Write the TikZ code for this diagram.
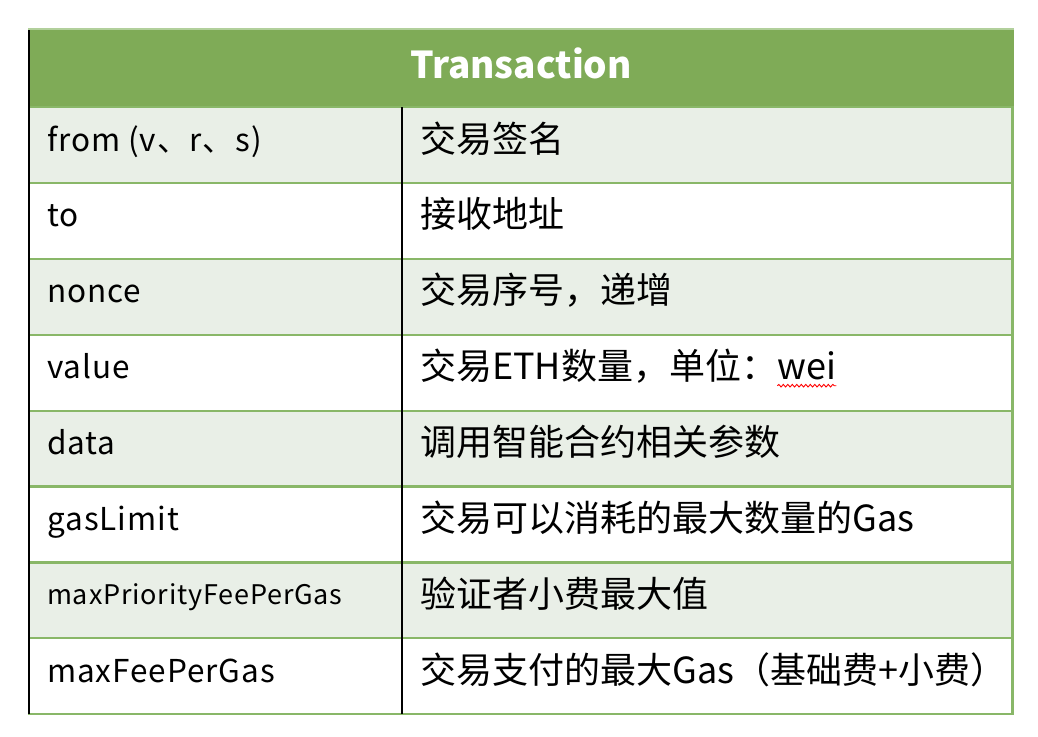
\documentclass[tikz,border=0pt]{standalone}
\usepackage{fontspec}
\setmainfont{Noto Sans CJK SC}
\newfontfamily\latinwide[LetterSpace=3]{Noto Sans CJK SC}
\usetikzlibrary{decorations.pathmorphing}
\definecolor{hdr}{RGB}{127,171,87}
\definecolor{rowfill}{RGB}{233,239,231}
\definecolor{rule}{RGB}{137,183,104}
\definecolor{toprule}{RGB}{178,208,156}
\begin{document}
\begin{tikzpicture}[x=1pt,y=-1pt,
  lefttext/.style={anchor=base west,inner sep=0pt,font=\latinwide\fontsize{31.5}{31.5}\selectfont},
  smalltext/.style={anchor=base west,inner sep=0pt,font=\latinwide\fontsize{27}{27}\selectfont},
  righttext/.style={anchor=base west,inner sep=0pt,font=\fontsize{36}{36}\selectfont},
  hdrtext/.style={anchor=base,inner sep=0pt,text=white,font=\fontsize{37}{37}\selectfont\bfseries},
  hline/.style={draw=rule,line width=2.2pt},
  vline/.style={draw=black,line width=2pt}]
\useasboundingbox (0,0) rectangle (1038,736);
% header
\fill[hdr] (28,29) rectangle (1014,107);
\draw[toprule,line width=1.5pt] (28,29) -- (1014,29);
% row fills
\foreach \i in {0,2,4,6} {
  \fill[rowfill] (28,{107+75.9*\i}) rectangle (1012,{107+75.9*(\i+1)});
}
% horizontal rules
\foreach \i in {0,...,8} {
  \draw[hline] (28,{107+75.9*\i}) -- (1013.5,{107+75.9*\i});
}
\draw[hline] (1012.5,107) -- (1012.5,714);
% vertical black lines
\draw[vline] (28.5,30) -- (28.5,714);
\draw[vline] (401.5,107) -- (401.5,714);
% header text
\node[hdrtext] (title) at (521,78) {Transaction};
% left column
\node[lefttext] (k1) at (47,151) {from (v、r、s)};
\node[lefttext] (k2) at (47,{151+75.9}) {to};
\node[lefttext] (k3) at (47,{151+75.9*2}) {nonce};
\node[lefttext] (k4) at (47,{151+75.9*3}) {value};
\node[lefttext] (k5) at (47,{151+75.9*4}) {data};
\node[lefttext] (k6) at (47,{151+75.9*5}) {gasLimit};
\node[smalltext] (k7) at (47,{149+75.9*6}) {maxPriorityFeePerGas};
\node[lefttext] (k8) at (47,{151+75.9*7}) {maxFeePerGas};
% right column
\node[righttext] (v1) at (420,152) {交易签名};
\node[righttext] (v2) at (420,{152+75.9}) {接收地址};
\node[righttext] (v3) at (420,{152+75.9*2}) {交易序号，递增};
\node[righttext] (v4) at (420,{152+75.9*3}) {交易ETH数量，单位：};
\node[righttext,anchor=base west] (wei) at (v4.base east) {wei};
\node[righttext] (v5) at (420,{152+75.9*4}) {调用智能合约相关参数};
\node[righttext] (v6) at (420,{152+75.9*5}) {交易可以消耗的最大数量的Gas};
\node[righttext] (v7) at (420,{152+75.9*6}) {验证者小费最大值};
\node[righttext] (v8) at (420,{152+75.9*7}) {交易支付的最大Gas（基础费+小费）};
% spell-check squiggle
\draw[red,line width=0.9pt,decorate,decoration={snake,amplitude=1.3pt,segment length=4.5pt}]
  ([yshift=-6pt]wei.base west) -- ([yshift=-6pt]wei.base east);
\end{tikzpicture}
\end{document}
